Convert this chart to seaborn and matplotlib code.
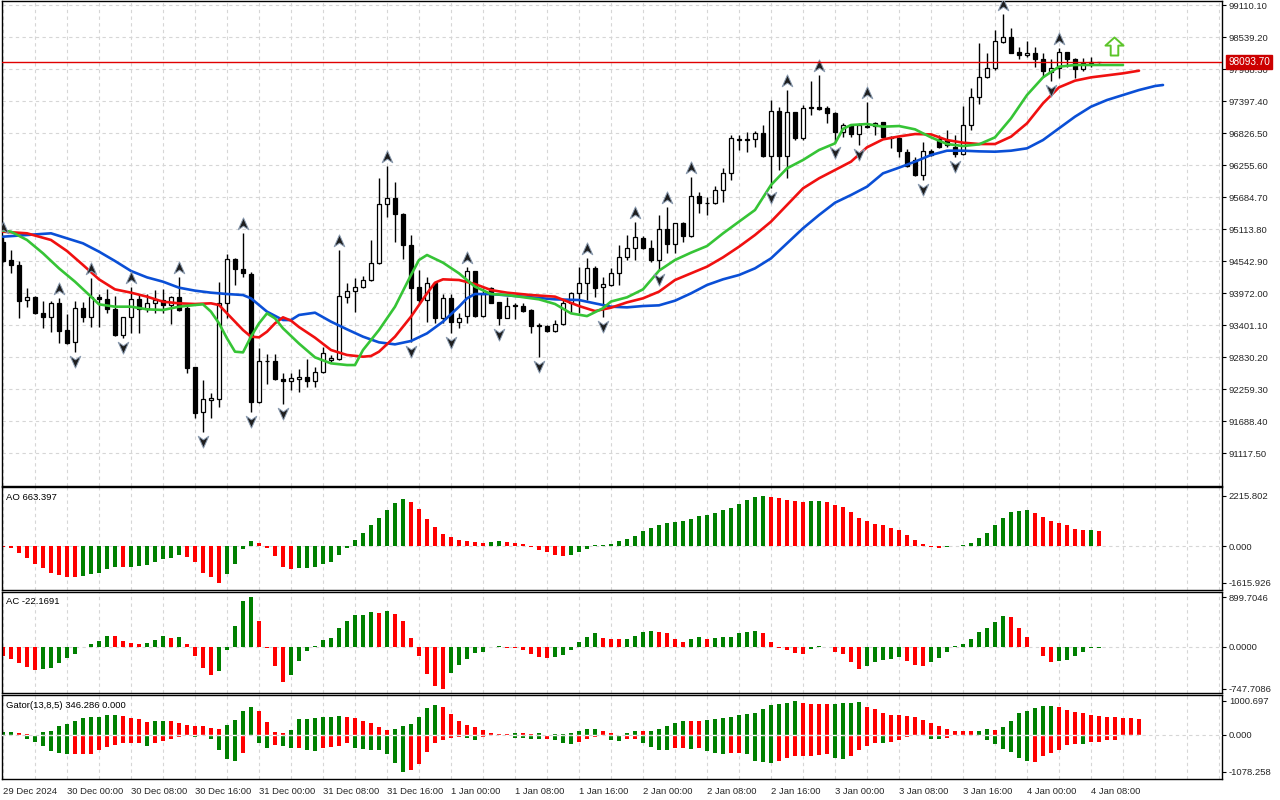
import numpy as np
import pandas as pd
import seaborn as sns
import matplotlib.pyplot as plt
from matplotlib.path import Path
from matplotlib.transforms import offset_copy

# hourly candles, bar 0 = 29 Dec 16:00
opens = [
    94876, 94561, 94472, 93841, 93907, 93621, 93550, 93788, 93312, 93104,
    93699, 93538, 93907, 93859, 93687, 93223, 93538, 93859, 93681, 93800,
    93847, 93758, 93895, 93700, 92646, 91843, 92063, 92075, 93788, 94579,
    94394, 94311, 92022, 92765, 92759, 92432, 92408, 92444, 92467, 92408,
    92557, 92777, 92795, 93895, 94008, 94073, 94204, 94501, 95554, 95661,
    95381, 94828, 94085, 93847, 94144, 93532, 93877, 93460, 93561, 94364,
    93561, 94055, 93805, 93532, 93758, 93746, 93669, 93401, 93383, 93300,
    93419, 93788, 93978, 94144, 94424, 94073, 94114, 94323, 94608, 94769,
    94947, 94769, 94561, 95108, 94840, 95215, 94995, 95703, 95584, 95572,
    95810, 96119, 96719, 96713, 96713, 96820, 96416, 97225, 96422, 97195,
    96731, 97272, 97284, 97267, 97177, 96850, 96963, 96809, 96951, 96951,
    97017, 96755, 96743, 96493, 96345, 96077, 96505, 96713, 96702, 96582,
    96452, 96969, 97475, 97820, 97980, 98456, 98533, 98266, 98218, 98248,
    98141, 97921, 97980, 98266, 98141, 97962, 98081, 98090]
highs = [
    94977, 94739, 94549, 94067, 93918, 93829, 93829, 93890, 93600, 93829,
    93817, 94234, 93948, 94037, 93918, 93550, 94085, 93948, 93948, 94025,
    94037, 93918, 94264, 93770, 92658, 92420, 92182, 94174, 94662, 94591,
    95037, 94353, 92985, 92878, 92878, 92539, 92539, 92616, 92788, 92658,
    93014, 92866, 94739, 94144, 94245, 94275, 94917, 96018, 96238, 95946,
    95393, 95007, 94382, 94263, 94156, 93954, 93954, 93609, 94442, 94370,
    94055, 94085, 93817, 93907, 93788, 93788, 93681, 93431, 93401, 93490,
    93847, 93996, 94442, 94590, 94454, 94263, 94412, 94828, 95007, 95245,
    94995, 94918, 95363, 95512, 95227, 95245, 96047, 95780, 95691, 95881,
    96196, 96791, 96791, 96850, 96868, 96969, 97415, 97296, 97594, 97207,
    97326, 97760, 97861, 97308, 97207, 96999, 96969, 96999, 97386, 97029,
    97029, 96773, 96761, 96535, 96404, 96672, 96535, 96791, 96880, 96791,
    97308, 97623, 98426, 98260, 98664, 98949, 98694, 98367, 98474, 98367,
    98248, 98141, 98337, 98278, 98159, 98159, 98176, 98099]
lows = [
    94531, 94335, 93532, 93728, 93597, 93342, 93282, 93086, 93070, 92925,
    93461, 93360, 93360, 93609, 93210, 93175, 93264, 93264, 93639, 93621,
    93609, 93419, 93657, 92551, 91748, 91486, 91748, 91932, 93520, 94115,
    94264, 91855, 92004, 92342, 92420, 91986, 92241, 92200, 92301, 92301,
    92539, 92747, 92777, 93788, 93639, 94055, 94192, 94490, 95334, 94888,
    94573, 93104, 93788, 93460, 93431, 93431, 93252, 93342, 93443, 93549,
    93549, 93788, 93400, 93520, 93508, 93639, 93252, 92836, 93282, 93282,
    93401, 93609, 93609, 93847, 93907, 93549, 94102, 94114, 94561, 94561,
    94751, 94531, 94382, 94691, 94691, 94888, 94977, 95393, 95363, 95560,
    95601, 95988, 96523, 96494, 96571, 96392, 95839, 96166, 96018, 96702,
    96702, 97148, 97237, 96999, 96642, 96749, 96749, 96612, 96910, 96791,
    96749, 96553, 96404, 96226, 96065, 95990, 96416, 96553, 96583, 96404,
    96434, 96880, 97344, 97802, 97950, 98438, 98248, 98141, 98188, 98010,
    97820, 97754, 97802, 98010, 97802, 97938, 98010, 98081]
closes = [
    94549, 94472, 93835, 93895, 93609, 93550, 93788, 93300, 93086, 93699,
    93538, 93895, 93859, 93681, 93223, 93538, 93859, 93681, 93800, 93847,
    93758, 93895, 93669, 92640, 91825, 92075, 92093, 93788, 94573, 94394,
    94323, 92022, 92765, 92753, 92432, 92402, 92450, 92479, 92408, 92557,
    92907, 92818, 93918, 94008, 94085, 94204, 94501, 95554, 95661, 95381,
    94828, 94067, 93847, 94144, 93532, 93877, 93460, 93532, 94364, 93561,
    93948, 93799, 93532, 93746, 93740, 93657, 93389, 93389, 93300, 93419,
    93788, 93978, 94144, 94424, 94067, 94132, 94323, 94608, 94769, 94965,
    94769, 94561, 95108, 94840, 95215, 94995, 95703, 95572, 95572, 95810,
    96119, 96731, 96696, 96696, 96820, 96416, 97225, 96422, 97195, 96731,
    97278, 97284, 97261, 97177, 96850, 96969, 96809, 96969, 96927, 97011,
    96761, 96743, 96511, 96244, 96077, 96505, 96434, 96582, 96612, 96452,
    96969, 97475, 97820, 97980, 98474, 98533, 98260, 98218, 98248, 98141,
    97933, 97980, 98266, 98141, 97962, 98081, 98093, 98093.7]

# alligator lines (bar index, price), already shifted forward
jaw_bars = [0, 6, 10, 12, 14, 16, 18, 20, 22, 24, 26, 28, 30, 31, 33, 35, 36, 37, 39,
            41, 43, 45, 47, 49, 51, 53, 55, 57, 58, 59, 61, 65, 69, 72, 74, 76, 78,
            80, 82, 84, 86, 88, 90, 92, 94, 96, 98, 100, 102, 104, 106, 108, 110,
            112, 114, 116, 118, 120, 122, 124, 126, 128, 130, 132, 134, 136, 138,
            140, 142, 144, 145]
jaw_vals = [94977, 95037, 94858, 94710, 94543, 94365, 94251, 94174, 94067, 94014,
            93978, 93954, 93936, 93877, 93639, 93490, 93490, 93580, 93621,
            93461, 93324, 93193, 93092, 93056, 93116, 93252, 93461, 93728, 93877,
            93954, 93954, 93907, 93859, 93847, 93787, 93728, 93716,
            93740, 93752, 93835, 93966, 94115, 94216, 94293, 94412, 94590, 94858,
            95126, 95363, 95583, 95720, 95869, 96107,
            96208, 96315, 96434, 96511, 96511, 96499, 96493, 96511, 96553, 96701,
            96910, 97118, 97296, 97415, 97504, 97593, 97665, 97683]
teeth_bars = [0, 3, 6, 8, 10, 12, 14, 16, 18, 20, 22, 24, 26, 27, 28, 30, 31, 32, 33,
              34, 35, 36, 37, 39, 41, 43, 45, 46, 47, 49, 51, 53, 54, 55, 57, 59, 61,
              63, 66, 69, 72, 74, 76, 78, 80, 82, 84, 86, 88, 90, 92, 94, 96, 98, 100,
              102, 104, 106, 108, 110, 112, 114, 116, 118, 120, 122, 124, 126, 128,
              130, 132, 134, 136, 138, 140, 142]
teeth_vals = [95066, 95037, 94918, 94721, 94472, 94216, 94037, 93978, 93907, 93817,
              93788, 93776, 93788, 93758, 93609, 93312, 93193, 93181, 93282,
              93431, 93538, 93479, 93365, 93175, 92955, 92866, 92836, 92848, 92925,
              93193, 93550, 93966, 94156, 94216, 94204, 94132, 94025,
              93978, 93936, 93907, 93740, 93650, 93710, 93805, 93877, 93996, 94204,
              94323, 94442, 94608, 94798, 95007, 95245, 95542, 95839,
              96018, 96166, 96315, 96571, 96713, 96765, 96808, 96802, 96701, 96654,
              96630, 96630, 96761, 96999, 97356, 97641, 97760, 97819, 97855, 97891,
              97938]
lips_bars = [0, 1, 3, 5, 7, 9, 11, 12, 14, 16, 18, 20, 22, 24, 25, 26, 27, 28, 29, 30,
             31, 32, 33, 34, 35, 37, 39, 41, 43, 44, 45, 47, 49, 51, 52, 53, 55, 57,
             59, 61, 63, 67, 69, 71, 73, 75, 76, 78, 80, 82, 84, 86, 88, 90, 92, 94,
             96, 98, 100, 102, 104, 105, 106, 108, 110, 112, 114, 116, 118, 120, 122,
             124, 126, 128, 130, 132, 134, 136, 138, 140]
lips_vals = [95084, 95066, 94918, 94680, 94412, 94174, 93907, 93770, 93728, 93728,
             93681, 93669, 93728, 93758, 93770, 93639, 93431, 93163, 92925, 92913,
             93193, 93431, 93609, 93520, 93342, 93070, 92824, 92717, 92687, 92687,
             92955, 93312, 93728, 94293, 94561, 94650, 94513, 94323,
             94085, 93954, 93936, 93859, 93776, 93609, 93560, 93700, 93820, 93895,
             94037, 94370, 94561, 94692, 94810, 95036, 95245, 95453,
             95899, 96196, 96345, 96523, 96642, 96900, 96969, 96987, 96939, 96951,
             96892, 96749, 96630, 96594, 96624, 96749, 97088, 97504, 97819, 98010,
             98040, 98040, 98040, 98040]

fractal_up_bars = [0, 7, 11, 16, 22, 30, 42, 48, 58, 73, 79, 83, 86, 98, 102, 108, 125, 132]
fractal_dn_bars = [9, 15, 25, 31, 35, 51, 56, 62, 67, 75, 82, 96, 104, 107, 115, 119, 131]
last_price = 98093.70
signal_bar, signal_price = 138.9, 98378

price_ticks = [99110.10, 98539.20, 97968.30, 97397.40, 96826.50, 96255.60, 95684.70,
               95113.80, 94542.90, 93972.00, 93401.10, 92830.20, 92259.30, 91688.40,
               91117.50]

ao_vals = [
    -42, -74, -309, -529, -794, -970, -1191, -1279, -1352, -1355,
    -1308, -1235, -1191, -1014, -926, -940, -911, -867, -838, -706,
    -573, -529, -397, -485, -706, -1191, -1367, -1616, -1235, -794,
    -118, 220, 132, -103, -441, -911, -1000, -970, -965, -926,
    -794, -691, -397, -74, 265, 573, 926, 1235, 1588, 1896,
    2073, 1940, 1632, 1191, 838, 529, 397, 265, 220, 176,
    132, 176, 220, 176, 132, 88, -30, -162, -250, -397,
    -441, -397, -250, -132, 29, 44, 74, 220, 309, 441,
    676, 794, 926, 1014, 1073, 1103, 1205, 1338, 1367, 1455,
    1602, 1676, 1852, 2029, 2146, 2216, 2172, 2100, 2029, 1990,
    1955, 1970, 1985, 1925, 1793, 1720, 1500, 1220, 1117, 985,
    911, 794, 720, 485, 279, 88, -29, -74, -29, 10,
    44, 132, 353, 559, 926, 1220, 1500, 1558, 1565, 1455,
    1279, 1117, 1014, 941, 760, 700, 720, 663.4]
ao_cols = ("rrrrrrrrrr" "ggggg" "r" "ggggggg" "rrrrr" "gggg" "rrrrr" "gggggggggggggg"
           "rrrrrrrrrr" "gg" "rrrrrrrr" "ggggggggggggggggggggggggg" "rrrrr" "gg"
           "rrrrrrrrrrrrrrr" "ggggggggggg" "rrrrrrr" "g" "r")

ac_vals = [
    -168, -210, -294, -366, -420, -402, -384, -294, -204, -132,
    5, 60, 114, 204, 198, 114, 78, 60, 78, 132,
    204, 168, 186, 60, -168, -384, -510, -438, -60, 384,
    830, 900, 474, -12, -348, -636, -510, -258, -78, 18,
    132, 168, 348, 474, 570, 582, 636, 618, 640, 600,
    474, 168, -168, -492, -700, -748, -474, -330, -210, -114,
    -96, 6, 12, -10, -24, -60, -132, -186, -204, -186,
    -150, -60, 96, 186, 246, 168, 150, 148, 152, 204,
    276, 294, 270, 246, 150, 96, 150, 186, 150, 168,
    172, 186, 246, 276, 294, 246, 96, -24, -60, -102,
    -132, -42, 15, 5, -84, -132, -276, -390, -336, -276,
    -228, -210, -186, -258, -318, -336, -276, -198, -96, 12,
    60, 138, 270, 348, 456, 564, 546, 348, 186, -6,
    -168, -262, -255, -228, -168, -96, -24, -22.17]
ac_cols = ("rrrrr" "ggggggggg" "rrrr" "ggg" "r" "g" "rrrr" "ggggg" "rrrr" "ggggggggggg"
           "r" "g" "rrrrrrr" "ggggggg" "rrrrrr" "gggggg" "rrr" "gggg" "rrrr" "gg" "r"
           "gggggg" "rrrrrr" "gg" "rrrrr" "ggggg" "rrr" "gggggggggg" "rrrrrr" "gggggg")

gator_up = [
    98, 98, 49, 20, 10, 78, 127, 265, 333, 412,
    510, 529, 539, 588, 598, 568, 490, 461, 392, 421,
    425, 412, 363, 304, 274, 255, 216, 186, 284, 441,
    700, 830, 715, 392, 98, 60, 150, 461, 470, 490,
    539, 541, 545, 529, 490, 421, 363, 245, 150, 176,
    265, 333, 539, 784, 892, 833, 627, 421, 284, 225,
    157, 49, 30, 20, 59, 49, 39, 49, 10, 39,
    40, 69, 118, 186, 190, 127, 69, 10, 69, 127,
    120, 130, 186, 274, 363, 421, 415, 410, 451, 480,
    485, 539, 598, 627, 657, 764, 872, 911, 951, 1000.7,
    931, 911, 902, 900, 911, 931, 951, 960, 833, 764,
    657, 598, 590, 568, 539, 451, 363, 274, 186, 127,
    120, 110, 127, 186, 157, 245, 421, 647, 715, 804,
    843, 853, 813, 745, 690, 640, 600, 560, 530, 520,
    500, 495, 480]
gator_up_cols = ("gg" "rrr" "gggggggggg" "rrrr" "gg" "rrrrrrr" "gggg" "rrrr" "ggggggg"
                 "rrrrrr" "gggggg" "rrrrrrrrr" "g" "rr" "g" "r" "gggggg" "rrr" "gg" "r"
                 "ggggg" "rr" "gggggggggggg" "rrrr" "gggg" "rrrrrrrrrrrrrr" "gg" "r"
                 "ggggggg" "rrrrrrrrrrr")
gator_dn = [
    -29, -10, -20, -127, -196, -314, -470, -519, -568, -565,
    -562, -560, -451, -343, -294, -245, -240, -235, -314, -245,
    -186, -127, -69, -40, -69, -30, -127, -451, -715, -774,
    -519, -30, -245, -392, -300, -314, -392, -375, -451, -460,
    -392, -343, -314, -245, -372, -412, -441, -451, -568, -833,
    -1078.3, -1039, -862, -490, -245, -150, -100, -60, -98, -157,
    -50, -20, -30, -40, -78, -80, -108, -127, -127, -157,
    -245, -274, -216, -127, -49, -20, -157, -186, -127, -120,
    -245, -363, -451, -455, -392, -390, -421, -392, -470, -539,
    -559, -539, -530, -559, -764, -804, -833, -764, -686, -627,
    -620, -615, -588, -570, -686, -715, -627, -451, -323, -245,
    -250, -196, -157, -69, -20, -30, -120, -130, -90, -40,
    -10, -10, -29, -157, -274, -412, -510, -666, -764, -784,
    -627, -519, -451, -304, -265, -274, -216, -196, -157, -157,
    -29]
gator_dn_cols = ("g" "r" "ggggggg" "rrrrrrrrr" "g" "rrrrr" "g" "r" "gggg" "rr" "gg" "r"
                 "gg" "r" "gg" "rrrr" "ggggggg" "rrrrrrr" "gg" "rr" "gggggg" "r" "ggg"
                 "rrrr" "gg" "rr" "gggg" "rr" "g" "r" "ggg" "rr" "gggg" "rrrrrrr" "gg"
                 "rrrr" "g" "rrrr" "ggg" "rrrr" "ggggggg" "rrrrrr" "g" "rrrrr")

date_bars = [0, 8, 16, 24, 32, 40, 48, 56, 64, 72, 80, 88, 96, 104, 112, 120, 128, 136]
date_labels = ['29 Dec 2024', '30 Dec 00:00', '30 Dec 08:00', '30 Dec 16:00',
               '31 Dec 00:00', '31 Dec 08:00', '31 Dec 16:00', '1 Jan 00:00',
               '1 Jan 08:00', '1 Jan 16:00', '2 Jan 00:00', '2 Jan 08:00',
               '2 Jan 16:00', '3 Jan 00:00', '3 Jan 08:00', '3 Jan 16:00',
               '4 Jan 00:00', '4 Jan 08:00']

# ---------------------------------------------------------------
sns.set_theme(style='white')
plt.rcParams['font.family'] = ['Liberation Sans', 'DejaVu Sans']
FS = 6.8
GREEN, RED = '#008000', '#ff0000'
GRID = dict(color='#d6d6d6', linestyle=(0, (3, 3)), linewidth=0.8)

df = pd.DataFrame({'open': opens, 'high': highs, 'low': lows, 'close': closes})
df['bar'] = np.arange(len(df))
df['up'] = df['close'] >= df['open']

fig = plt.figure(figsize=(12.8, 8), dpi=100)
W, H = 1280, 800


def panel(top, bottom):
    a = fig.add_axes([2 / W, 1 - bottom / H, 1220 / W, (bottom - top) / H])
    a.set_xlim(-0.125, 152.375)
    for s in a.spines.values():
        s.set_color('black')
        s.set_linewidth(1)
    a.set_xticks(range(0, 153, 4), minor=True)
    a.set_xticks(date_bars)
    a.xaxis.grid(True, which='both', **GRID)
    a.set_axisbelow(True)
    a.yaxis.tick_right()
    a.tick_params(axis='y', direction='out', length=3, width=0.8, color='black',
                  labelsize=FS, pad=2, left=False, right=True)
    a.tick_params(axis='x', which='both', length=0, labelbottom=False)
    return a


def label(a, title, height_px):
    a.text(4 / 1220, 1 - 10 / height_px, title, transform=a.transAxes,
           fontsize=FS, ha='left', va='center', color='black')


ax = panel(1, 486)
ao_ax = panel(487, 590)
ac_ax = panel(592, 693)
gt_ax = panel(695, 779)

# main price panel
ax.set_ylim(90529, 99181.5)
ax.set_yticks(price_ticks)
ax.set_yticklabels([f'{p:.2f}' for p in price_ticks])
ax.yaxis.grid(True, **GRID)

ax.vlines(df['bar'], df['low'], df['high'], color='black', linewidth=1, zorder=3)
body_lo = df[['open', 'close']].min(axis=1)
body_h = (df['close'] - df['open']).abs()
ax.bar(df['bar'], body_h, bottom=body_lo, width=0.62,
       color=np.where(df['up'], 'white', 'black'), edgecolor='black', linewidth=0.9,
       zorder=4)

sns.lineplot(x=jaw_bars, y=jaw_vals, ax=ax, color='#0a4fd6', linewidth=1.9,
             estimator=None, sort=False, zorder=5)
sns.lineplot(x=teeth_bars, y=teeth_vals, ax=ax, color='#f01010', linewidth=1.9,
             estimator=None, sort=False, zorder=5)
sns.lineplot(x=lips_bars, y=lips_vals, ax=ax, color='#36c436', linewidth=1.9,
             estimator=None, sort=False, zorder=5)
ax.set_xlabel('')
ax.set_ylabel('')

up_marker = Path([(0, 1), (0.8, -0.8), (0, -0.25), (-0.8, -0.8), (0, 1)],
                 [Path.MOVETO, Path.LINETO, Path.LINETO, Path.LINETO, Path.CLOSEPOLY])
dn_marker = Path([(0, -1), (0.8, 0.8), (0, 0.25), (-0.8, 0.8), (0, -1)],
                 [Path.MOVETO, Path.LINETO, Path.LINETO, Path.LINETO, Path.CLOSEPOLY])
tr_up = offset_copy(ax.transData, fig=fig, x=0, y=9, units='dots')
tr_dn = offset_copy(ax.transData, fig=fig, x=0, y=-9, units='dots')
ax.plot(fractal_up_bars, [highs[i] for i in fractal_up_bars], linestyle='none',
        marker=up_marker, markersize=9.5, markerfacecolor='#1e1e1e',
        markeredgecolor='#8a9bb0', markeredgewidth=0.7, transform=tr_up, zorder=6)
ax.plot(fractal_dn_bars, [lows[i] for i in fractal_dn_bars], linestyle='none',
        marker=dn_marker, markersize=9.5, markerfacecolor='#1e1e1e',
        markeredgecolor='#8a9bb0', markeredgewidth=0.7, transform=tr_dn, zorder=6)

ax.axhline(last_price, color='#e00000', linewidth=1, zorder=6)
ax.annotate(f'{last_price:.2f}', xy=(1, last_price), xycoords=('axes fraction', 'data'),
            xytext=(4.5, 0), textcoords='offset points', ha='left', va='center',
            color='white', fontsize=7.2, annotation_clip=False, zorder=10,
            bbox=dict(boxstyle='square,pad=0.22', fc='#cc0000', ec='#cc0000'))

signal_marker = Path([(0, 1), (1, 0.1), (0.42, 0.1), (0.42, -1), (-0.42, -1),
                      (-0.42, 0.1), (-1, 0.1), (0, 1)],
                     [Path.MOVETO] + [Path.LINETO] * 6 + [Path.CLOSEPOLY])
ax.plot([signal_bar], [signal_price], linestyle='none', marker=signal_marker,
        markersize=13, markerfacecolor='white', markeredgecolor='#5cc42a',
        markeredgewidth=1.4, zorder=7)

# AO
ao_ax.set_ylim(-1936, 2596)
ao_ax.axhline(0, zorder=0, **GRID)
ao_ax.bar(range(len(ao_vals)), ao_vals, width=0.55,
          color=[GREEN if c == 'g' else RED for c in ao_cols], linewidth=0, zorder=2)
ao_ax.set_yticks([2215.802, 0, -1615.926])
ao_ax.set_yticklabels(['2215.802', '0.000', '-1615.926'])
label(ao_ax, 'AO 663.397', 103)

# AC
ac_ax.set_ylim(-828, 990)
ac_ax.axhline(0, zorder=0, **GRID)
ac_ax.bar(range(len(ac_vals)), ac_vals, width=0.55,
          color=[GREEN if c == 'g' else RED for c in ac_cols], linewidth=0, zorder=2)
ac_ax.set_yticks([899.7046, 0, -747.7086])
ac_ax.set_yticklabels(['899.7046', '0.0000', '-747.7086'])
label(ac_ax, 'AC -22.1691', 101)

# Gator
gt_ax.set_ylim(-1294, 1176)
gt_ax.bar(range(len(gator_up)), gator_up, width=0.55,
          color=[GREEN if c == 'g' else RED for c in gator_up_cols], linewidth=0, zorder=2)
gt_ax.bar(range(len(gator_dn)), gator_dn, width=0.55,
          color=[GREEN if c == 'g' else RED for c in gator_dn_cols], linewidth=0, zorder=2)
gt_ax.axhline(0, color='white', linewidth=1.0, zorder=3)
gt_ax.axhline(0, zorder=4, **GRID)
gt_ax.set_yticks([1000.697, 0, -1078.258])
gt_ax.set_yticklabels(['1000.697', '0.000', '-1078.258'])
label(gt_ax, 'Gator(13,8,5) 346.286 0.000', 84)

# date axis under the last panel
gt_ax.set_xticklabels(date_labels)
gt_ax.tick_params(axis='x', which='major', length=6, width=0.8, color='black',
                  direction='out', labelbottom=True, labelsize=FS, pad=0)
for t in gt_ax.get_xticklabels():
    t.set_ha('left')

fig.savefig('out.png', dpi=100, facecolor='white')
